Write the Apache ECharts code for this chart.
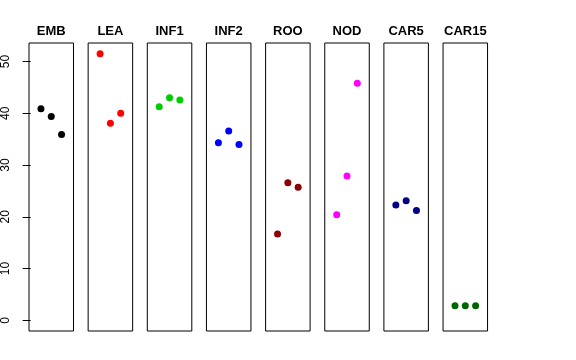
<!DOCTYPE html>
<html>
<head>
<meta charset="utf-8">
<script src="https://cdn.jsdelivr.net/npm/echarts@6/dist/echarts.min.js"></script>
<style>html,body{margin:0;padding:0;background:#fff}#c{width:576px;height:360px}</style>
</head>
<body>
<div id="c"></div>
<script>
const panels = ['EMB','LEA','INF1','INF2','ROO','NOD','CAR5','CAR15'];
const positions = [1, 2, 3];
const EMB = [40.9, 39.4, 35.9];
const LEA = [51.5, 38.1, 40.0];
const INF1 = [41.3, 43.0, 42.6];
const INF2 = [34.3, 36.6, 34.0];
const ROO = [16.7, 26.6, 25.7];
const NOD = [20.4, 27.9, 45.8];
const CAR5 = [22.3, 23.1, 21.2];
const CAR15 = [2.8, 2.8, 2.8];
const yTicks = [0, 10, 20, 30, 40, 50];
const values = [EMB, LEA, INF1, INF2, ROO, NOD, CAR5, CAR15];
const colors = ['#000000','#FF0000','#00CD00','#0000FF','#8B0000','#FF00FF','#000080','#006400'];

(function () {
const chart = echarts.init(document.getElementById('c'), null, {renderer:'canvas'});
const left0 = 29, pitch = 59.15, w = 44.5, gTop = 43, h = 288;
const grids = [], xAxes = [], yAxes = [], series = [], titles = [];
panels.forEach((p, i) => {
  const l = left0 + i * pitch;
  grids.push({left: l, top: gTop, width: w, height: h, show: true, borderColor: '#000', borderWidth: 1, backgroundColor: 'transparent'});
  xAxes.push({type: 'value', gridIndex: i, min: -0.16, max: 4.16, show: false});
  yAxes.push({
    type: 'value', gridIndex: i, min: -2.07, max: 53.6, show: i === 0,
    splitLine: {show: false},
    axisLine: {show: false},
    axisTick: {show: true, length: 8, lineStyle: {color: '#000'}, customValues: yTicks},
    axisLabel: {show: true, rotate: 90, margin: 17, color: '#000', fontSize: 12, fontFamily: 'Liberation Sans, Arial, sans-serif', customValues: yTicks}
  });
  series.push({
    type: 'scatter', xAxisIndex: i, yAxisIndex: i,
    data: positions.map((x, k) => [x, values[i][k]]),
    symbolSize: 7, itemStyle: {color: colors[i], opacity: 1}, silent: true, animation: false
  });
  titles.push({text: p, left: l + w / 2, top: 25, padding: 0, textAlign: 'center',
    textStyle: {fontSize: 13, fontWeight: 'bold', color: '#000', fontFamily: 'Liberation Sans, Arial, sans-serif'}});
});
chart.setOption({animation: false, title: titles, grid: grids, xAxis: xAxes, yAxis: yAxes, series: series});
})();
</script>
</body>
</html>
